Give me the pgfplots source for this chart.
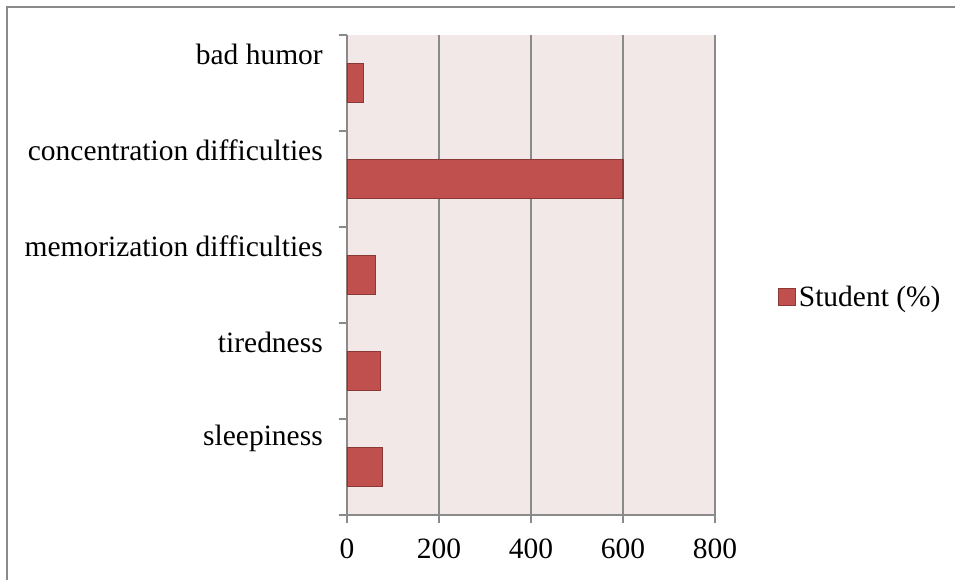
\documentclass[border=0pt]{standalone}
\usepackage{fontspec}
\setmainfont{Liberation Serif}
\usepackage{pgfplots}
\pgfplotsset{compat=1.18}
\definecolor{barred}{RGB}{192,80,77}
\definecolor{bardark}{RGB}{140,56,54}
\definecolor{bgpink}{RGB}{242,232,232}
\definecolor{gridgray}{RGB}{138,138,138}
\begin{document}
\begin{tikzpicture}
\useasboundingbox (-260.25pt,-48pt) rectangle (456pt,386.25pt);
\draw[gridgray, line width=1.1pt] (-255pt,-60pt) -- (-255pt,381pt) -- (470pt,381pt);
\begin{axis}[
 at={(0,0)}, anchor=south west,
 scale only axis, width=276pt, height=360pt,
 xbar, bar width=29.25pt,
 xmin=0, xmax=800, ymin=-0.5, ymax=4.5,
 xtick={0,200,...,800},
 ytick={0.3,1.3,2.3,3.3,4.3},
 yticklabels={sleepiness,tiredness,memorization difficulties,concentration difficulties,bad humor},
 minor ytick={-0.5,0.5,...,4.5},
 xtick pos=bottom, ytick pos=left,
 axis x line*=bottom, axis y line*=left,
 axis line style={-, draw=gridgray, line width=1.1pt},
 tick align=outside,
 major tick length=6pt, minor tick length=6pt,
 tick style={draw=gridgray, line width=1.1pt},
 major y tick style={draw=none},
 xmajorgrids=true,
 grid style={draw=gridgray, line width=1.1pt},
 axis background/.style={fill=bgpink},
 /pgf/number format/assume math mode=true,
 tick label style={font=\fontsize{22.1}{26}\selectfont, inner sep=0pt},
 yticklabel shift=12pt,
 xticklabel shift=12pt,
 legend style={at={(1.171,0.454)}, anchor=west, draw=none, fill=none,
   font=\fontsize{22.1}{26}\selectfont, inner sep=0pt},
 legend image code/.code={\draw[fill=barred, draw=bardark, line width=0.8pt] (0pt,-6.4pt) rectangle (12.75pt,6.4pt);},
]
\addplot[fill=barred, draw=bardark, line width=0.8pt] coordinates {(77,0) (72,1) (62,2) (600,3) (35,4)};
\legend{Student (\%)}
\end{axis}
\end{tikzpicture}
\end{document}
